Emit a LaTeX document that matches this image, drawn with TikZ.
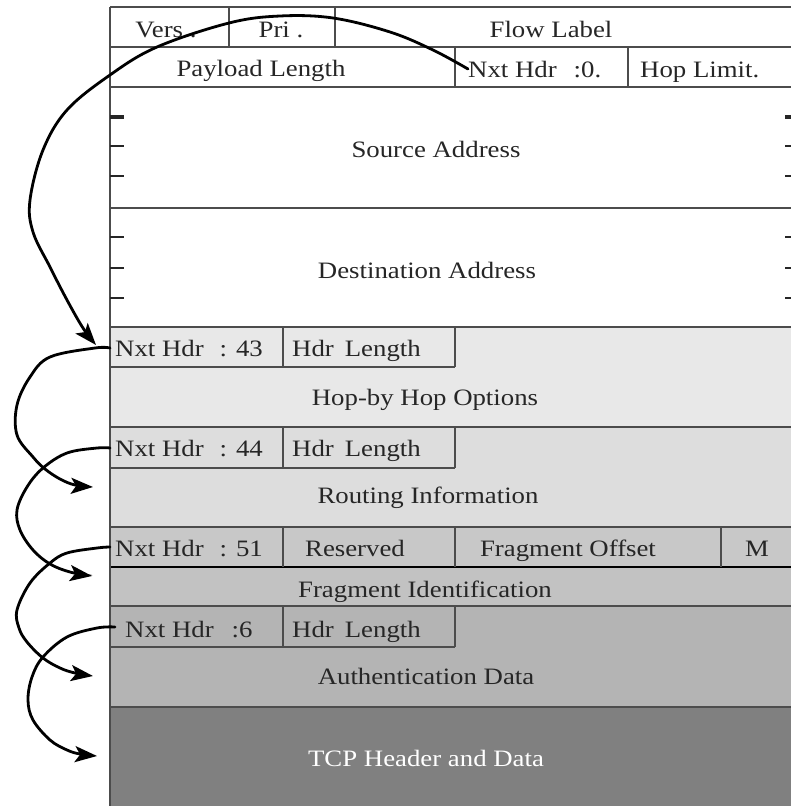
\documentclass[tikz,border=0pt]{standalone}
\usepackage{fontspec}
\setmainfont[FakeStretch=1.14]{Liberation Serif}
\usetikzlibrary{arrows.meta}

\definecolor{hopfill}{HTML}{E8E8E8}
\definecolor{routefill}{HTML}{DDDDDD}
\definecolor{fragfill}{HTML}{C8C8C8}
\definecolor{fidfill}{HTML}{C2C2C2}
\definecolor{authfill}{HTML}{B4B4B4}
\definecolor{tcpfill}{HTML}{808080}

\tikzset{
  frame/.style={draw=black!70, line width=2pt},
  heavyframe/.style={draw=black, line width=2.8pt},
  lbl/.style={inner sep=0pt, text=black!85, font=\fontsize{23.5}{26}\selectfont},
  addrtick/.style={draw=black!85, line width=2.2pt},
  link/.style={draw=black, line width=2.8pt, line cap=round,
    -{Stealth[length=22pt,width=16pt,inset=5pt]}}
}

\begin{document}
\begin{tikzpicture}[x=1pt,y=-1pt]
\useasboundingbox (0,0) rectangle (791,806);
\clip (0,0) rectangle (791,806);
\fill[white] (0,0) rectangle (791,806);

% extension header bands
\fill[hopfill]   (110,327) rectangle (800,427);
\fill[routefill] (110,427) rectangle (800,527);
\fill[fragfill]  (110,527) rectangle (800,567);
\fill[fidfill]   (110,567) rectangle (800,606);
\fill[authfill]  (110,606) rectangle (800,707);
\fill[tcpfill]   (110,707) rectangle (800,812);

% horizontal rules
\foreach \y in {7,47,87,208,327,427,527,606,707}
  \draw[frame] (110,\y) -- (800,\y);
\draw[heavyframe] (110,567) -- (800,567);

% left edge
\draw[frame] (110,7) -- (110,812);

% fixed header fields
\draw[frame] (229,7) -- (229,47);
\draw[frame] (335,7) -- (335,47);
\draw[frame] (455,47) -- (455,87);
\draw[frame] (628,47) -- (628,87);

% next header / length sub-fields
\foreach \t/\b in {327/367, 427/468, 606/647} {
  \draw[frame] (110,\b) -- (455,\b);
  \draw[frame] (283,\t) -- (283,\b);
  \draw[frame] (455,\t) -- (455,\b);
}
% fragment header fields
\draw[frame] (283,527) -- (283,567);
\draw[frame] (455,527) -- (455,567);
\draw[frame] (721,527) -- (721,567);

% address word ticks
\draw[addrtick, line width=3.2pt] (110,117) -- (124,117);
\foreach \y in {146,176,237,268,298}
  \draw[addrtick] (110,\y) -- (124,\y);
\draw[addrtick, line width=3.2pt] (785,117) -- (795,117);
\foreach \y in {146,176,237,268,298}
  \draw[addrtick] (785,\y) -- (795,\y);

% field labels
\node[lbl, anchor=base] (vers) at (166,37) {Vers .};
\node[lbl, anchor=base] (pri) at (281,37) {Pri .};
\node[lbl, anchor=base] (flow) at (551,37) {Flow Label};
\node[lbl, anchor=base] (paylen) at (261,76) {Payload Length};
\node[lbl, anchor=base west] (nh0) at (468,77) {Nxt Hdr\hspace{17pt}:0.};
\node[lbl, anchor=base west] (hoplim) at (640,77) {Hop Limit.};
\node[lbl, anchor=base] (src) at (436,157) {Source Address};
\node[lbl, anchor=base] (dst) at (427,278) {Destination Address};

\node[lbl, anchor=base west] (nh43) at (115,356) {Nxt Hdr\hspace{16pt}: 43};
\node[lbl, anchor=base west] (len1) at (292,356) {Hdr\hspace{11pt}Length};
\node[lbl, anchor=base] (hbh) at (425,405) {Hop-by Hop Options};

\node[lbl, anchor=base west] (nh44) at (115,456) {Nxt Hdr\hspace{16pt}: 44};
\node[lbl, anchor=base west] (len2) at (292,456) {Hdr\hspace{11pt}Length};
\node[lbl, anchor=base] (rout) at (428,503) {Routing Information};

\node[lbl, anchor=base west] (nh51) at (115,556) {Nxt Hdr\hspace{16pt}: 51};
\node[lbl, anchor=base] (resv) at (355,556) {Reserved};
\node[lbl, anchor=base] (foff) at (568,556) {Fragment Offset};
\node[lbl, anchor=base] (mflag) at (757,556) {M};
\node[lbl, anchor=base] (fid) at (425,597) {Fragment Identification};

\node[lbl, anchor=base west] (nh6) at (125,637) {Nxt Hdr\hspace{18pt}:6};
\node[lbl, anchor=base west] (len3) at (292,637) {Hdr\hspace{11pt}Length};
\node[lbl, anchor=base] (auth) at (426,684) {Authentication Data};

\node[lbl, anchor=base, text=white] (tcp) at (426,766) {TCP Header and Data};

% link end points
\coordinate (s43) at (110,348);
\coordinate (s44) at (110,448);
\coordinate (s51) at (110,547);
\coordinate (s6)  at (115,627);
\coordinate (t1) at (96,345);
\coordinate (t2) at (93,487);
\coordinate (t3) at (92,576);
\coordinate (t4) at (93,676);
\coordinate (t5) at (97,756);

% next-header chain
\draw[link] plot[smooth, tension=0.6] coordinates {(nh0.west) (433,50) (390,32) (333,18) (280,16) (229,23) (157,47) (110,75) (67,110) (43,150) (30,200) (33,232) (50,267) (67,300) (83,328) (t1)};
\draw[link] plot[smooth, tension=0.6] coordinates {(s43) (95,348) (50,357) (30,377) (17,405) (17,435) (33,457) (45,469) (60,479) (75,485) (t2)};
\draw[link] plot[smooth, tension=0.6] coordinates {(s44) (97,448) (67,453) (43,468) (27,487) (17,510) (20,530) (33,550) (50,564) (70,572) (t3)};
\draw[link] plot[smooth, tension=0.6] coordinates {(s51) (97,548) (67,553) (50,563) (30,583) (17,610) (19,628) (27,642) (43,658) (60,668) (75,673) (t4)};
\draw[link] plot[smooth, tension=0.6] coordinates {(s6) (97,628) (67,637) (43,657) (32,677) (28,700) (33,720) (50,740) (67,750) (80,754) (t5)};
\end{tikzpicture}
\end{document}
